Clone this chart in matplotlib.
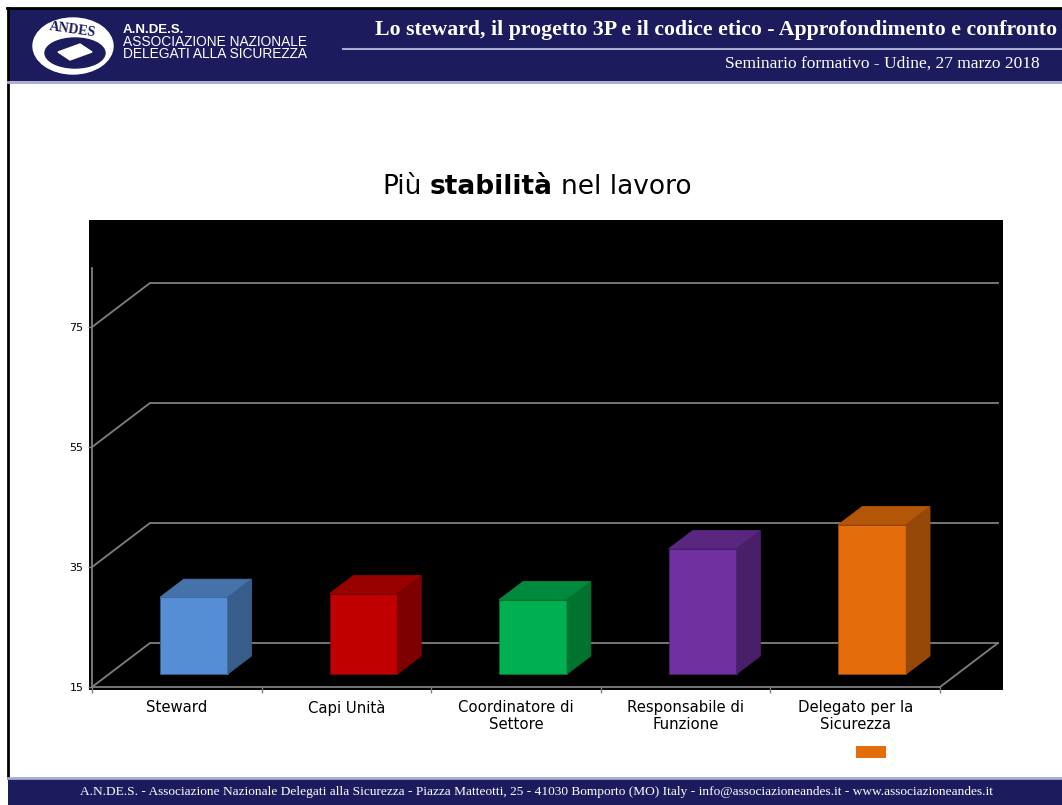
import matplotlib.pyplot as plt
from matplotlib.patches import Polygon, Rectangle, Ellipse, Patch
from matplotlib.offsetbox import TextArea, HPacker, AnchoredOffsetbox

# dati
categorie = ["Steward", "Capi Unità", "Coordinatore di\nSettore",
             "Responsabile di\nFunzione", "Delegato per la\nSicurezza"]
valori = [27.8, 28.4, 27.4, 35.9, 39.9]
livelli = [15, 35, 55, 75]
colori_fronte = ["#558ed5", "#c00000", "#00b050", "#7030a0", "#e46c0a"]
colori_sopra = ["#4672aa", "#990000", "#008a3e", "#592680", "#b35608"]
colori_lato = ["#385d8a", "#7f0000", "#00732f", "#4a1f6a", "#954807"]

W, H = 1062, 805
navy = "#1c1b5e"
lilla = "#a9a9d2"
grigio = "#7f7f7f"

fig = plt.figure(figsize=(W / 100, H / 100), dpi=100)

# --- cornice della slide (coordinate in pixel) ---
bg = fig.add_axes([0, 0, 1, 1])
bg.set_xlim(0, W)
bg.set_ylim(H, 0)
bg.axis("off")

bg.add_patch(Rectangle((8, 9), W - 8, 72, color=navy, lw=0))
bg.plot([7, W], [8.5, 8.5], color="black", lw=2)
bg.plot([7.5, 7.5], [8, 778], color="black", lw=2)
bg.plot([8, W], [82, 82], color=lilla, lw=2)
bg.plot([343, W], [49, 49], color=lilla, lw=1.5)
bg.add_patch(Rectangle((8, 779), W - 8, 26, color=navy, lw=0))
bg.plot([8, W], [778, 778], color=lilla, lw=2)

# logo
bg.add_patch(Ellipse((73, 46), 80, 56, color="white"))
bg.add_patch(Ellipse((75, 53), 60, 30, color=navy))
bg.add_patch(Polygon([[58, 52], [80, 44], [92, 52], [70, 60]], color="white"))
bg.text(73, 30, "ANDES", color=navy, fontsize=10, fontweight="bold",
        family="Liberation Serif", ha="center", va="center", rotation=-8)

bg.text(123, 30, "A.N.DE.S.", color="white", fontsize=9.5, fontweight="bold",
        family="Liberation Sans", va="center")
bg.text(123, 42, "ASSOCIAZIONE NAZIONALE", color="white", fontsize=9.9,
        family="Liberation Sans", va="center")
bg.text(123, 54, "DELEGATI ALLA SICUREZZA", color="white", fontsize=9.9,
        family="Liberation Sans", va="center")
bg.text(1057, 30, "Lo steward, il progetto 3P e il codice etico - Approfondimento e confronto",
        color="white", fontsize=15.7, fontweight="bold", family="Liberation Serif",
        ha="right", va="center")
bg.text(1040, 64, "Seminario formativo - Udine, 27 marzo 2018", color="white",
        fontsize=12.5, family="Liberation Serif", ha="right", va="center")
bg.text(537, 792, "A.N.DE.S. - Associazione Nazionale Delegati alla Sicurezza - Piazza Matteotti, 25 - "
        "41030 Bomporto (MO) Italy - info@associazioneandes.it - www.associazioneandes.it",
        color="white", fontsize=9.6, family="Liberation Serif", ha="center", va="center")

# titolo con parola in grassetto
parti = [TextArea("Più", textprops=dict(fontsize=19, family="DejaVu Sans")),
         TextArea("stabilità", textprops=dict(fontsize=19, family="DejaVu Sans", fontweight="bold")),
         TextArea("nel lavoro", textprops=dict(fontsize=19, family="DejaVu Sans"))]
titolo = AnchoredOffsetbox(loc="center", child=HPacker(children=parti, sep=6, pad=0),
                           bbox_to_anchor=(537 / W, 1 - 187 / H),
                           bbox_transform=fig.transFigure, frameon=False, pad=0, borderpad=0)
fig.add_artist(titolo)

# --- grafico a barre 3D (proiezione obliqua) ---
cw, vu = 169.6, 6.0          # pixel per categoria, pixel per unità
k, m = 58 / cw, 44 / vu      # spostamento in profondità in unità dati
d0, d1 = 0.295, 0.705        # profondità della barra
largh = 0.4

ax = fig.add_axes([89 / W, (H - 690) / H, 914 / W, 470 / H])
ax.set_facecolor("black")
ax.set_xlim(-3 / cw, 911 / cw)
ax.set_ylim(14.5, 15 + 467 / vu)

n = len(categorie)
for L in livelli:
    ax.plot([0, k, n + k], [L, L + m, L + m], color=grigio, lw=1.3, zorder=1)
ax.plot([n, n + k], [15, 15 + m], color=grigio, lw=1.3, zorder=1)

for i, v in enumerate(valori):
    x0 = i + 0.5 - largh / 2 + k * d0
    x1 = x0 + largh
    b0 = 15 + m * d0
    t0 = v + m * d0
    dx, dy = k * (d1 - d0), m * (d1 - d0)
    ax.add_patch(Polygon([[x0, b0], [x1, b0], [x1, t0], [x0, t0]],
                         facecolor=colori_fronte[i], edgecolor=colori_lato[i], lw=0.6, zorder=3))
    ax.add_patch(Polygon([[x0, t0], [x1, t0], [x1 + dx, t0 + dy], [x0 + dx, t0 + dy]],
                         facecolor=colori_sopra[i], edgecolor=colori_sopra[i], lw=0.6, zorder=3))
    ax.add_patch(Polygon([[x1, b0], [x1, t0], [x1 + dx, t0 + dy], [x1 + dx, b0 + dy]],
                         facecolor=colori_lato[i], edgecolor=colori_lato[i], lw=0.6, zorder=3))

for s in ["top", "right"]:
    ax.spines[s].set_visible(False)
ax.spines["left"].set_position(("data", 0))
ax.spines["left"].set_bounds(15, 84.8)
ax.spines["bottom"].set_position(("data", 15))
ax.spines["bottom"].set_bounds(0, n)
for s in ["left", "bottom"]:
    ax.spines[s].set_color(grigio)
    ax.spines[s].set_linewidth(1.3)

ax.set_yticks(livelli)
ax.tick_params(axis="y", colors=grigio, labelcolor="black", labelsize=8,
               length=3, width=1, pad=3)
for t in ax.get_yticklabels():
    t.set_family("DejaVu Sans")

ax.set_xticks(range(n + 1))
ax.set_xticklabels([])
ax.set_xticks([i + 0.5 for i in range(n)], minor=True)
ax.set_xticklabels(categorie, minor=True, fontsize=10.7, family="DejaVu Sans")
ax.tick_params(axis="x", which="major", colors=grigio, length=4, width=1)
ax.tick_params(axis="x", which="minor", length=0, pad=9, labelcolor="black")

fig.legend(handles=[Patch(facecolor=colori_fronte[4])], labels=[""], loc="center",
           bbox_to_anchor=(871 / W, 1 - 753 / H), frameon=False, fontsize=10,
           handlelength=2.15, handleheight=1.0, handletextpad=0, borderpad=0,
           borderaxespad=0)

fig.savefig("out.png", dpi=100)
